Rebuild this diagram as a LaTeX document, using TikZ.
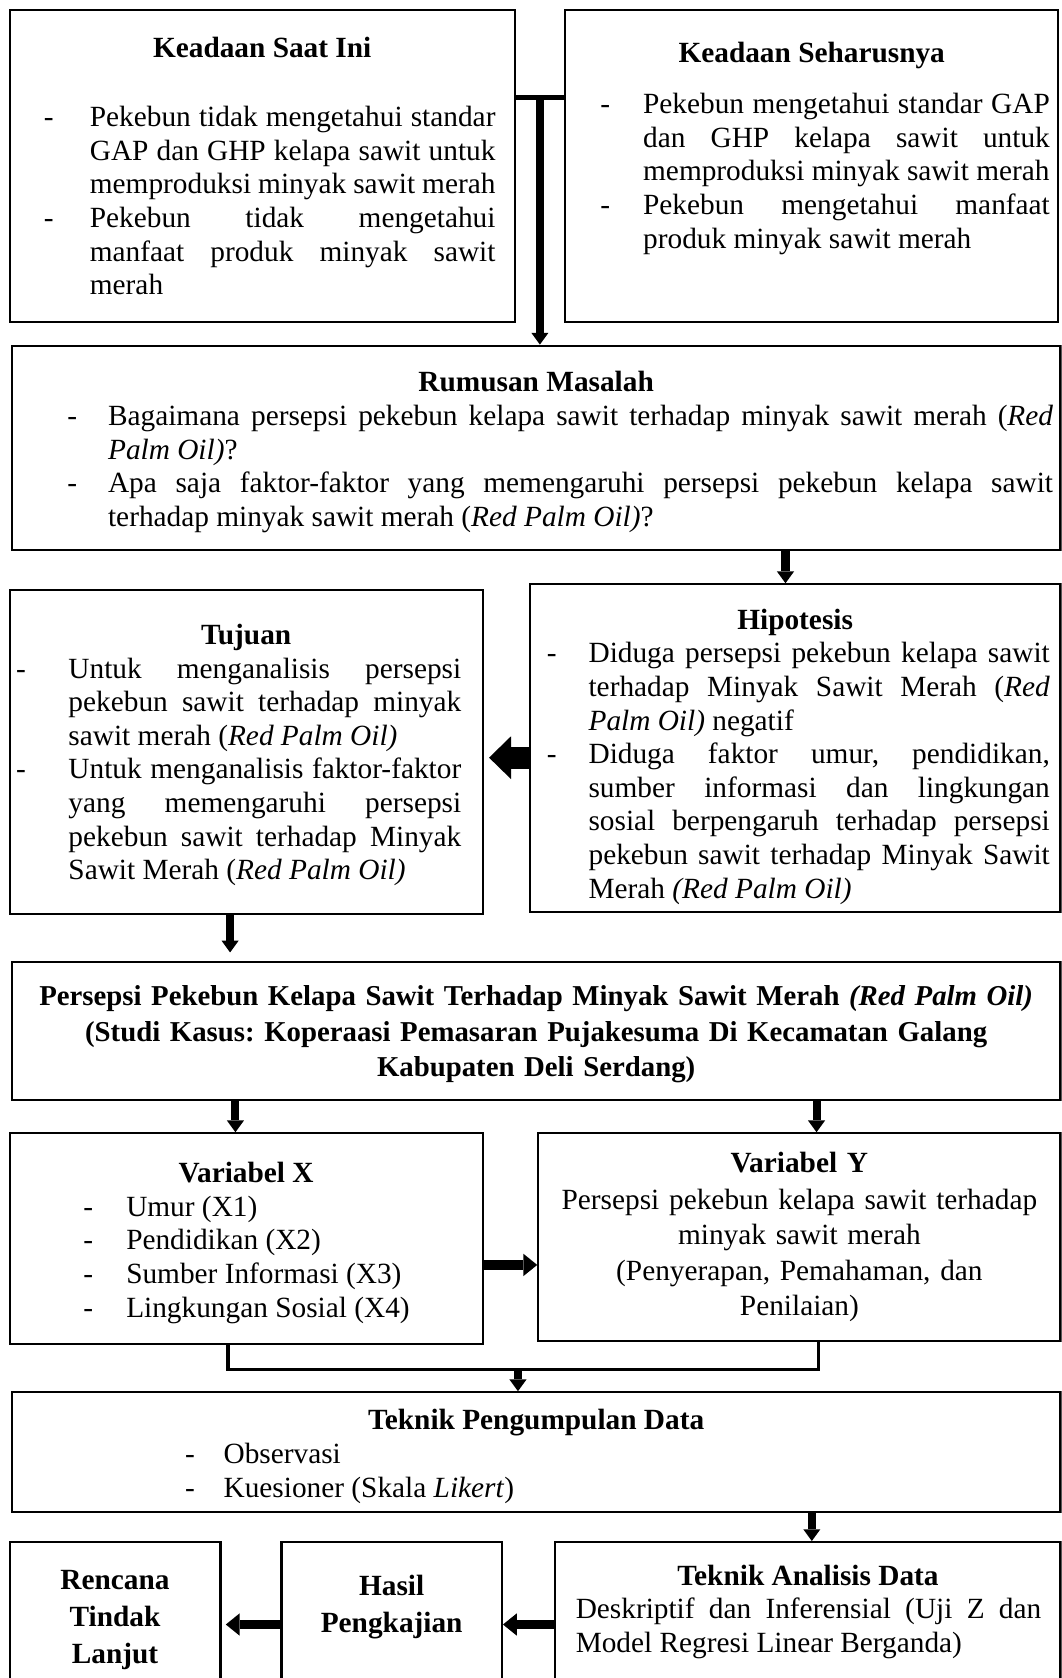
\documentclass[tikz,border=0pt]{standalone}
\usepackage{fontspec}
\setmainfont{Liberation Serif}
\usetikzlibrary{arrows.meta,calc}

\frenchspacing
\hyphenpenalty=10000
\exhyphenpenalty=10000
\tolerance=9999

% margins inside a box: dash, text, right side
\newdimen\dashx
\newdimen\teksx
\newskip\kanan
\newcommand{\atur}[3]{\dashx=#1\relax\teksx=#2\relax\kanan=#3\relax}
\newcommand{\judul}[2][0pt]{{\centering\noindent\rule{0pt}{#1}\textbf{#2}\par}}
\newcommand{\poin}[1]{\par\leftskip=\dashx\rightskip=\kanan\parfillskip=0pt plus 1fil
  \hangindent=\dimexpr\teksx-\dashx\relax\hangafter=1
  \noindent\makebox[\dimexpr\teksx-\dashx\relax][l]{-}#1\par}
\newcommand{\teks}[1]{\par\leftskip=\dashx\rightskip=\kanan\parfillskip=0pt plus 1fil
  \noindent#1\par}

\tikzset{
  kotak/.style={draw, line width=2pt, anchor=north west, inner xsep=0pt, inner ysep=0pt,
    align=justify, font=\fontsize{27.4}{31.4}\selectfont},
  panah/.style={line width=7.5pt, -{Triangle[width=16pt,length=11pt,line width=0pt]}},
  panahsedang/.style={line width=9pt, -{Triangle[width=21pt,length=13pt,line width=0pt]}},
  panahbesar/.style={line width=20.5pt, -{Triangle[width=40pt,length=20.5pt,line width=0pt]}},
  palang/.style={line width=5pt},
  garis/.style={line width=3pt}
}

\begin{document}
\begin{tikzpicture}[x=1pt,y=-1pt]
\useasboundingbox (0,0) rectangle (992,1568);
\clip (0,0) rectangle (992,1568);

% top row
\node[kotak, minimum width=472pt, text width=472pt, minimum height=292pt] (saatini) at (8,8) {%
  \atur{32pt}{75pt}{18pt}%
  \judul{Keadaan Saat Ini}\vspace{33.6pt}
  \poin{Pekebun tidak mengetahui standar\linebreak GAP dan GHP kelapa sawit untuk\linebreak memproduksi minyak sawit merah}
  \poin{Pekebun tidak mengetahui\linebreak manfaat produk minyak sawit\linebreak merah}};
\node[kotak, minimum width=461pt, text width=461pt, minimum height=292pt] (seharusnya) at (527,8) {%
  \atur{33pt}{73pt}{8pt}%
  \judul{Keadaan Seharusnya}\vspace{16.6pt}
  \poin{Pekebun mengetahui standar GAP\linebreak dan GHP kelapa sawit untuk\linebreak memproduksi minyak sawit merah}
  \poin{Pekebun mengetahui manfaat\linebreak produk minyak sawit merah\rule[-39pt]{0pt}{1pt}}};

\node[kotak, minimum width=980pt, text width=980pt, minimum height=191pt] (rumusan) at (10,322) {%
  \atur{52pt}{90pt}{7pt}%
  \judul[27pt]{Rumusan Masalah}
  \poin{Bagaimana persepsi pekebun kelapa sawit terhadap minyak sawit merah (\textit{Red\linebreak Palm Oil)}?}
  \poin{Apa saja faktor-faktor yang memengaruhi persepsi pekebun kelapa sawit\linebreak terhadap minyak sawit merah (\textit{Red Palm Oil)}?}};

% middle row
\node[kotak, minimum width=442pt, text width=442pt, minimum height=303pt] (tujuan) at (8,550) {%
  \atur{6pt}{55pt}{20pt}%
  \judul[25pt]{Tujuan}
  \poin{Untuk menganalisis persepsi\linebreak pekebun sawit terhadap minyak\linebreak sawit merah (\textit{Red Palm Oil)}}
  \poin{Untuk menganalisis faktor-faktor\linebreak yang memengaruhi persepsi\linebreak pekebun sawit terhadap Minyak\linebreak Sawit Merah (\textit{Red Palm Oil)}}};
\node[kotak, minimum width=496pt, text width=496pt, minimum height=306pt] (hipotesis) at (494,545) {%
  \atur{16pt}{55pt}{10pt}%
  \judul[35pt]{Hipotesis}
  \poin{Diduga persepsi pekebun kelapa sawit\linebreak terhadap Minyak Sawit Merah (\textit{Red\linebreak Palm Oil)} negatif}
  \poin{Diduga faktor umur, pendidikan,\linebreak sumber informasi dan lingkungan\linebreak sosial berpengaruh terhadap persepsi\linebreak pekebun sawit terhadap Minyak Sawit\linebreak Merah \textit{(Red Palm Oil)}}};

\node[kotak, align=center, font=\fontsize{26.9}{31.4}\selectfont, minimum width=980pt, text width=980pt, minimum height=129pt] (persepsi) at (10,898) {%
  \bfseries \rule{0pt}{25pt}Persepsi Pekebun Kelapa Sawit Terhadap Minyak Sawit Merah \textit{(Red Palm Oil)}\\[1.8pt]
  (Studi Kasus: Koperaasi Pemasaran Pujakesuma Di Kecamatan Galang\\[1.8pt]
  Kabupaten Deli Serdang)};

\node[kotak, minimum width=442pt, text width=442pt, minimum height=197pt] (varx) at (8,1058) {%
  \atur{69pt}{109pt}{0pt plus 1fil}%
  \judul[27pt]{Variabel X}
  \poin{Umur (X1)}
  \poin{Pendidikan (X2)}
  \poin{Sumber Informasi (X3)}
  \poin{Lingkungan Sosial (X4)}};
\node[kotak, align=center, minimum width=488pt, text width=488pt, minimum height=194pt] (vary) at (502,1058) {%
  \textbf{Variabel Y}\\[3pt]
  Persepsi pekebun kelapa sawit terhadap\\[1.6pt]
  minyak sawit merah\\[1.6pt]
  (Penyerapan, Pemahaman, dan\\[1.6pt]
  Penilaian)};

\node[kotak, minimum width=980pt, text width=980pt, minimum height=112pt] (kumpul) at (10,1300) {%
  \atur{162pt}{198pt}{0pt plus 1fil}%
  \judul[27pt]{Teknik Pengumpulan Data}
  \poin{Observasi}
  \poin{Kuesioner (Skala \textit{Likert})}};

% bottom row
\node[kotak, minimum width=472pt, text width=472pt, minimum height=130pt] (analisis) at (518,1440) {%
  \atur{19pt}{19pt}{18pt}%
  \judul{Teknik Analisis Data}
  \teks{Deskriptif dan Inferensial (Uji Z dan\linebreak Model Regresi Linear Berganda)}};
\node[kotak, align=center, minimum width=206pt, text width=206pt, minimum height=130pt] (hasil) at (262,1440) {%
  \bfseries Hasil\\[3pt] Pengkajian\rule[-14pt]{0pt}{1pt}};
\node[kotak, align=center, minimum width=197pt, text width=197pt, minimum height=130pt] (rencana) at (8,1440) {%
  \bfseries \rule{0pt}{33pt}Rencana\\[3pt] Tindak\\[3pt] Lanjut};

% connectors
\path ([yshift=64pt]saatini.east) -- coordinate[midway] (t) ([yshift=64pt]seharusnya.west);
\draw[palang] ([yshift=64pt]saatini.east) -- ([yshift=64pt]seharusnya.west);
\draw[panah] (t) -- (t |- rumusan.north);

\coordinate (rh) at ([xshift=-9pt]hipotesis.north);
\draw[panah] (rh |- rumusan.south) -- (rh);
\draw[panahbesar, shorten >=5pt] ([yshift=-9pt]hipotesis.west) -- ([yshift=-9pt]hipotesis.west -| tujuan.east);
\draw[panah, shorten >=8pt] ([xshift=-15pt]tujuan.south) -- ([xshift=-15pt]tujuan.south |- persepsi.north);

\coordinate (px) at ([xshift=-10pt]varx.north);
\coordinate (py) at ([xshift=16pt]vary.north);
\draw[panah] (px |- persepsi.south) -- (px);
\draw[panah] (py |- persepsi.south) -- (py);
\draw[panahsedang] ([yshift=-24.5pt]varx.east) -- ([yshift=-24.5pt]varx.east -| vary.west);

\coordinate (gab) at (484,1280);
\draw[garis] ([xshift=-17pt]varx.south) |- (gab) -| ([xshift=17.6pt]vary.south);
\draw[panah] (gab) -- (gab |- kumpul.north);

\coordinate (ka) at ([xshift=3.6pt]analisis.north);
\draw[panah] (ka |- kumpul.south) -- (ka);
\draw[panahsedang] ([yshift=-12pt]analisis.west) -- ([yshift=-12pt]analisis.west -| hasil.east);
\draw[panahsedang, shorten >=4pt] ([yshift=-12pt]hasil.west) -- ([yshift=-12pt]hasil.west -| rencana.east);

\end{tikzpicture}
\end{document}
